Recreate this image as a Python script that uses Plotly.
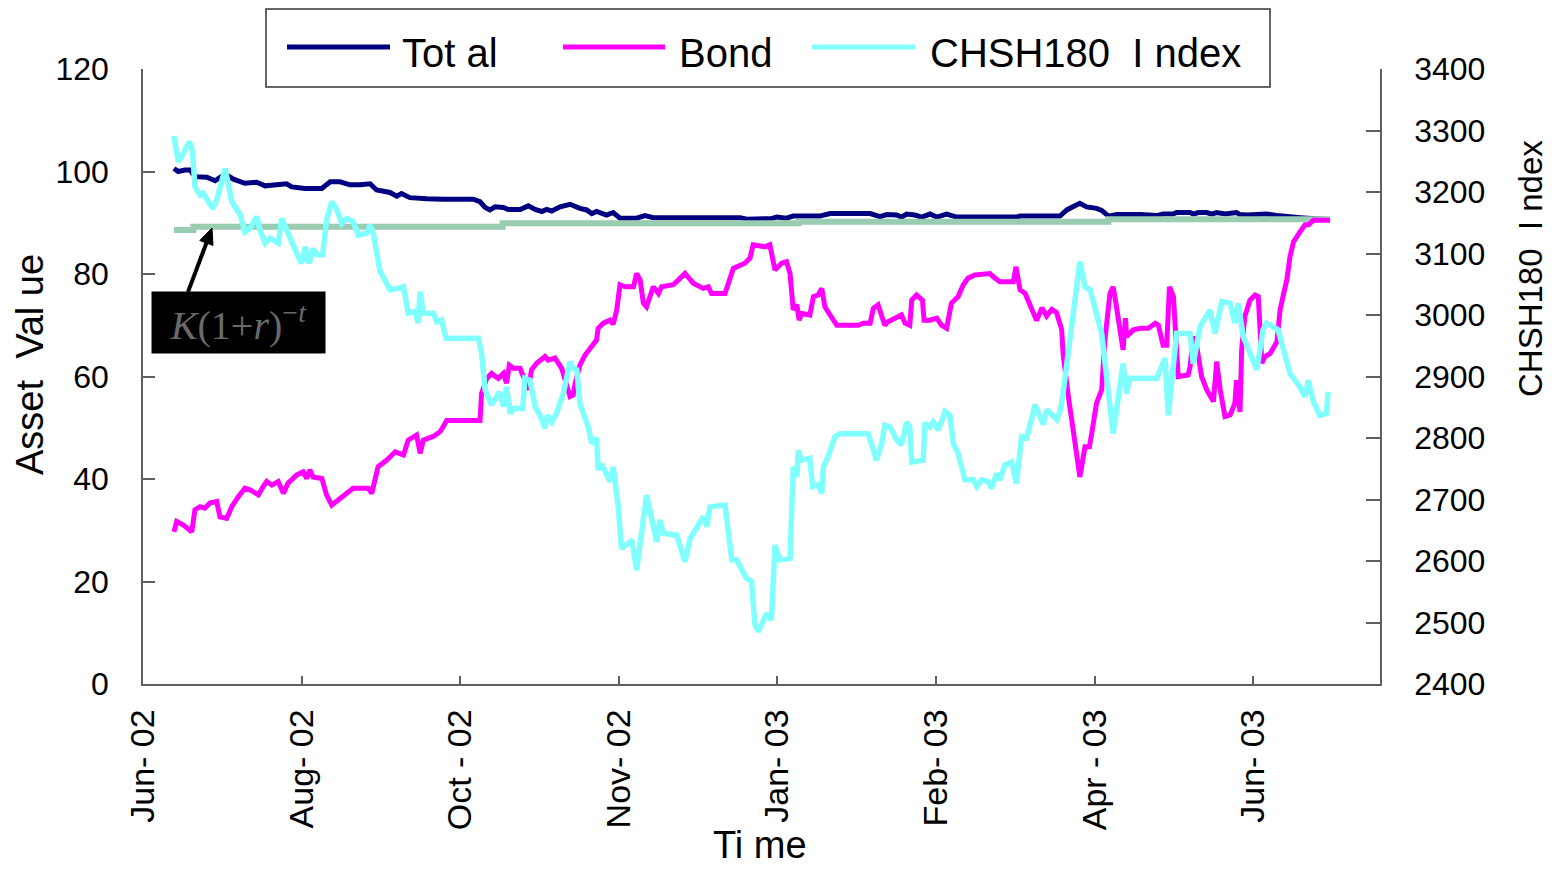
import plotly.graph_objects as go

# Trading-day index along the horizontal axis; month labels every 40 sessions
month_ticks = [0, 40, 80, 120, 160, 200, 240, 280]
month_labels = ["Jun- 02", "Aug- 02", "Oct - 02", "Nov- 02",
                "Jan- 03", "Feb- 03", "Apr - 03", "Jun- 03"]

# Total portfolio value
total_day = [7.8, 8.9, 10.6, 11.9, 13.1, 16.1, 18.2, 20.7, 22.8, 25.7, 28.7, 30.8, 33.7,
             36.2, 37.5, 40.9, 45.1, 47.2, 49.7, 52.2, 54.7, 57.3, 58.9, 62.3, 64.0, 65.2,
             67.3, 69.9, 71.6, 75.7, 83.3, 85.0, 86.3, 87.5, 88.8, 90.9, 92.1, 95.1, 97.2,
             98.9, 100.6, 101.8, 103.1, 105.2, 107.7, 110.2, 111.9, 113.2, 114.4, 116.9,
             118.6, 120.3, 124.5, 126.6, 128.7, 150.6, 152.3, 158.5, 159.8, 162.3, 164.0,
             170.7, 173.3, 183.4, 185.9, 187.6, 190.1, 191.3, 192.6, 194.7, 196.4, 198.5,
             200.2, 202.7, 205.2, 220.3, 221.2, 231.3, 233.0, 236.3, 238.0, 240.5, 241.8,
             243.5, 245.6, 251.5, 255.7, 257.3, 259.8, 260.7, 264.1, 264.9, 266.2, 268.3,
             269.5, 270.8, 272.9, 275.8, 276.7, 278.4, 283.4, 286.0, 288.5, 291.9, 299.4]
total_val = [100.6, 100.0, 100.3, 100.3, 99.0, 98.9, 98.2, 99.5, 98.5, 97.7, 97.9, 97.2, 97.4,
             97.6, 97.0, 96.7, 96.7, 98.0, 98.0, 97.4, 97.4, 97.6, 96.4, 95.9, 95.2, 95.7,
             94.9, 94.9, 94.7, 94.6, 94.6, 94.1, 93.0, 92.5, 93.1, 93.0, 92.6, 92.6, 93.3,
             92.6, 92.2, 92.6, 92.3, 93.1, 93.6, 92.8, 92.5, 91.8, 92.2, 91.5,
             92.0, 90.9, 90.9, 91.4, 91.0, 91.0, 90.7, 90.8, 91.1, 90.9, 91.3,
             91.3, 91.8, 91.8, 91.2, 91.6, 91.5, 91.1, 91.7, 91.5, 91.1, 91.7,
             91.1, 91.7, 91.1, 91.1, 91.3, 91.3, 92.5, 93.8, 93.1, 92.8, 92.4,
             91.3, 91.6, 91.6, 91.4, 91.7, 91.7, 92.0, 92.0, 91.7, 92.0, 92.0,
             91.7, 92.0, 91.7, 92.0, 91.6, 91.5, 91.7, 91.4, 91.3, 91.0, 90.6]

# Bond holding value
bond_day = [7.8, 8.5, 10.2, 12.3, 13.1, 14.4, 15.6, 16.9, 18.6, 19.4, 21.1, 22.4, 24.0, 25.7,
            27.0, 29.1, 30.3, 31.2, 32.5, 34.1, 35.4, 36.6, 38.8, 40.4, 41.3, 42.1, 42.9,
            45.1, 46.3, 47.6, 49.7, 51.4, 53.0, 56.8, 57.7, 59.3, 61.5, 63.6, 65.7, 66.9,
            69.0, 69.9, 70.7, 73.2, 74.9, 75.7, 76.6, 85.0, 85.4, 86.7, 87.9, 89.6, 90.9,
            91.7, 92.4, 93.4, 95.1, 96.3, 97.2, 98.0, 99.3, 101.4, 102.2, 103.9, 105.6,
            107.7, 108.5, 109.0, 110.2, 111.5, 113.2, 114.4, 114.8, 116.1, 117.8, 118.6,
            119.5, 120.3, 121.6, 123.7, 124.5, 125.4, 126.2, 127.0, 128.7, 130.0, 130.8,
            133.7, 135.0, 136.7, 138.8, 141.3, 142.6, 143.4, 146.8, 148.9, 151.8, 153.1,
            153.9, 156.9, 158.1, 159.4, 161.1, 162.3, 163.2, 164.0, 164.9, 165.5, 166.1,
            168.2, 169.1, 170.3, 171.2, 172.0, 173.3, 175.0, 180.4, 181.7, 183.4, 184.2,
            185.4, 186.3, 187.1, 187.9, 190.1, 191.3, 192.2, 193.4, 193.9, 195.1, 196.6,
            197.0, 198.5, 200.2, 201.4, 202.7, 203.9, 205.6, 206.9, 208.1, 209.8, 213.6,
            214.4, 216.1, 219.5, 220.2, 221.2, 222.5, 223.7, 225.4, 226.7, 227.9, 229.2,
            230.4, 231.7, 232.1, 233.4, 234.6, 236.3, 237.6, 238.7, 239.3, 240.5, 241.8,
            242.6, 243.9, 244.7, 245.4, 246.4, 247.2, 247.8, 248.1, 249.8, 251.5, 253.6,
            255.3, 256.1, 257.3, 258.2, 258.9, 259.9, 260.5, 261.1, 263.6, 264.1, 264.9,
            265.8, 267.0, 268.3, 270.0, 270.8, 271.7, 272.9, 274.2, 275.4, 275.8, 276.7,
            277.1, 277.9, 279.2, 280.5, 281.3, 282.2, 283.0, 284.3, 286.0, 286.8, 287.7,
            288.5, 289.3, 290.2, 291.9, 293.1, 294.0, 295.2, 299.4]
bond_val = [29.7, 31.7, 31.0, 29.7, 34.0, 34.6, 34.3, 35.3, 35.6, 32.6, 32.3, 34.6, 36.5, 38.2,
            37.9, 36.9, 38.5, 39.5, 38.8, 39.5, 37.2, 39.2, 40.8, 41.4, 40.1, 41.8, 40.4,
            40.1, 36.9, 34.9, 36.2, 37.2, 38.2, 38.2, 37.2, 42.4, 43.7, 45.3, 44.7, 47.6,
            48.6, 45.0, 47.6, 48.3, 49.2, 50.2, 51.4, 51.4, 56.7, 59.6, 60.6, 59.6, 60.6,
            58.7, 62.2, 61.6, 61.6, 59.3, 57.4, 61.3, 62.6, 63.9, 63.2, 63.6, 61.6,
            56.1, 56.4, 58.7, 62.2, 64.2, 65.8, 67.1, 69.4, 70.4, 71.0, 70.2,
            73.0, 77.9, 77.5, 77.5, 80.1, 78.8, 74.3, 73.6, 77.5, 76.2, 77.5,
            77.9, 78.8, 80.1, 78.2, 77.2, 77.5, 76.2, 76.2, 81.1, 82.1, 83.1,
            85.7, 85.3, 85.7, 80.8, 82.1, 82.4, 80.1, 73.0, 74.0, 71.0, 72.3,
            72.0, 75.6, 75.9, 77.2, 73.6, 72.0, 70.0, 70.0, 70.4, 70.4, 73.3,
            74.0, 71.7, 70.0, 70.7, 71.7, 72.0, 70.4, 70.0, 74.9, 75.9, 74.9,
            71.0, 71.0, 71.4, 70.0, 69.4, 74.3, 75.6, 77.9, 79.2, 79.8, 80.1,
            79.5, 78.5, 78.5, 81.4, 76.9, 76.2, 74.0, 70.9, 73.4, 71.8, 73.1,
            72.5, 69.2, 64.2, 56.1, 48.9, 40.4, 46.3, 46.3, 48.9, 54.8, 57.4,
            67.1, 76.2, 77.5, 74.3, 68.4, 65.2, 71.4, 67.8, 69.1, 69.4, 69.4,
            70.4, 70.0, 66.1, 66.1, 77.5, 75.6, 69.1, 60.0, 60.3, 61.9, 67.8,
            65.8, 60.0, 57.4, 55.1, 62.9, 57.4, 52.2, 52.5, 54.8, 59.3, 53.1,
            65.2, 71.7, 74.9, 75.9, 75.6, 62.6, 63.9, 64.5, 66.8, 73.0, 76.2,
            78.8, 83.4, 86.3, 88.3, 89.6, 89.6, 90.5, 90.5]

# CHSH180 index level (secondary axis)
index_day = [7.8, 8.9, 10.2, 11.7, 12.5, 13.1, 14.4, 15.2, 17.6, 18.6, 20.7, 22.4, 24.5, 25.7,
             27.0, 28.7, 29.5, 30.8, 32.0, 34.1, 35.0, 36.2, 38.8, 40.0, 40.9, 41.9, 42.9,
             43.8, 45.3, 46.3, 47.6, 48.9, 50.1, 51.4, 53.0, 54.3, 56.4, 57.3, 58.1, 59.8,
             62.3, 64.0, 65.7, 66.9, 68.6, 69.4, 69.9, 70.7, 73.2, 74.1, 75.3, 76.4, 84.6,
             85.4, 86.3, 87.9, 89.9, 90.9, 91.7, 92.6, 93.4, 95.8, 96.3, 97.6, 98.9, 100.1,
             101.4, 102.0, 103.1, 104.3, 106.0, 107.7, 108.5, 109.4, 110.2, 112.3, 113.2,
             114.4, 114.8, 115.7, 117.8, 118.6, 119.9, 120.7, 123.3, 124.5, 127.0, 129.6,
             130.4, 131.2, 134.6, 136.7, 138.0, 140.1, 141.3, 142.2, 143.0, 146.8, 148.5,
             149.7, 152.2, 153.5, 154.3, 155.2, 157.3, 158.5, 159.4, 160.6, 163.2, 164.0,
             164.9, 165.3, 166.1, 168.2, 168.9, 170.3, 171.2, 171.6, 172.8, 174.5, 175.8,
             182.9, 185.0, 186.3, 187.1, 188.4, 190.1, 191.3, 192.6, 193.4, 193.9, 196.8,
             197.2, 198.5, 199.3, 200.6, 202.3, 203.5, 204.4, 205.6, 207.3, 209.4, 210.3,
             211.5, 213.2, 214.0, 215.3, 216.1, 217.4, 219.1, 220.3, 221.6, 222.9, 225.0,
             226.2, 227.1, 227.9, 230.5, 231.4, 232.0, 233.8, 236.3, 237.6, 238.9, 241.8,
             244.7, 247.2, 248.1, 248.9, 255.7, 257.8, 258.6, 260.7, 264.1, 264.9, 266.6,
             269.1, 270.4, 272.1, 274.2, 275.4, 276.2, 277.5, 280.9, 282.5, 283.4, 286.3,
             289.3, 291.8, 293.1, 293.9, 295.2, 296.8, 298.5, 298.9]
index_val = [3291, 3249, 3263, 3282, 3265, 3209, 3195, 3198, 3173, 3187, 3238, 3184, 3163, 3135,
             3141, 3160, 3138, 3117, 3125, 3117, 3157, 3138, 3100, 3084, 3111, 3084, 3108,
             3098, 3098, 3154, 3184, 3171, 3149, 3157, 3152, 3130, 3133, 3146, 3133, 3071,
             3041, 3043, 3046, 3003, 3006, 2987, 3038, 3003, 3003, 2989, 2992, 2962, 2962,
             2938, 2878, 2854, 2875, 2851, 2883, 2840, 2848, 2848, 2897, 2894, 2851, 2837,
             2816, 2837, 2826, 2840, 2872, 2924, 2913, 2911, 2856, 2818, 2791,
             2800, 2748, 2758, 2729, 2753, 2686, 2620, 2634, 2585, 2707, 2631,
             2667, 2645, 2642, 2599, 2637, 2659, 2672, 2656, 2688, 2691, 2602,
             2602, 2572, 2567, 2498, 2485, 2515, 2504, 2626, 2602, 2604, 2753,
             2737, 2780, 2764, 2767, 2721, 2724, 2710, 2753, 2770, 2802, 2807,
             2807, 2764, 2791, 2821, 2818, 2797, 2789, 2826, 2818, 2761, 2764,
             2824, 2818, 2826, 2813, 2843, 2837, 2791, 2775, 2732, 2732, 2721,
             2732, 2729, 2718, 2742, 2732, 2756, 2761, 2726, 2802, 2800, 2854,
             2837, 2822, 2846, 2830, 2846, 2870, 2960, 3087, 3046, 3041, 2970,
             2807, 2921, 2872, 2897, 2897, 2930, 2837, 2970, 2970, 2921, 2981,
             3008, 2970, 3022, 3019, 2987, 3019, 2965, 2911, 2976, 2987, 2976,
             2905, 2883, 2867, 2894, 2859, 2837, 2840, 2875]

# Discounted floor K(1+r)^-t, held flat between revisions
floor_day = [7.8, 12.7, 90.7, 165.4, 243.5, 299.4]
floor_val = [88.6, 89.2, 89.9, 90.2, 90.7, 90.7]

NAVY = "#000080"
MAGENTA = "#FF00FF"
CYAN = "#80FFFF"
FLOOR_GREEN = "#99CCB0"
AXIS_GREY = "#5f5f5f"
FONT = "Liberation Sans, Arial, sans-serif"

# plot-area geometry in pixels
L, R, T, B = 143, 172, 69, 186
W, H = 1552, 870
PW, PH = W - L - R, H - T - B


def px(x):
    return (x - L) / PW


def py(y):
    return (H - B - y) / PH


fig = go.Figure()
fig.add_trace(go.Scatter(x=total_day, y=total_val, name="Tot al", mode="lines",
                         line=dict(color=NAVY, width=5), showlegend=False))
fig.add_trace(go.Scatter(x=floor_day, y=floor_val, name="K(1+r)^-t", mode="lines",
                         line=dict(color=FLOOR_GREEN, width=6, shape="hv"), showlegend=False))
fig.add_trace(go.Scatter(x=bond_day, y=bond_val, name="Bond", mode="lines",
                         line=dict(color=MAGENTA, width=5), showlegend=False))
fig.add_trace(go.Scatter(x=index_day, y=index_val, name="CHSH180  I ndex", mode="lines",
                         line=dict(color=CYAN, width=5.5), yaxis="y2", showlegend=False))

axis_common = dict(showgrid=False, zeroline=False, showline=True, linecolor=AXIS_GREY,
                   linewidth=1.5, ticks="inside", tickcolor=AXIS_GREY, tickwidth=1.5)

fig.update_layout(
    width=W, height=H,
    margin=dict(l=L, r=R, t=T, b=B),
    paper_bgcolor="white", plot_bgcolor="white",
    font=dict(family=FONT, color="black"),
    xaxis=dict(range=[0, 312], tickvals=month_ticks, ticktext=month_labels,
               tickangle=-90, ticklen=8, ticklabelstandoff=10,
               tickfont=dict(family=FONT, size=34, color="black"), **axis_common),
    yaxis=dict(range=[0, 120], dtick=20, ticklen=12, ticklabelstandoff=26,
               tickfont=dict(family=FONT, size=32, color="black"), **axis_common),
    yaxis2=dict(range=[2400, 3400], dtick=100, ticklen=14, overlaying="y", side="right",
                ticklabelstandoff=26,
                tickfont=dict(family=FONT, size=32, color="black"), **axis_common),
)

# custom legend box across the top
legend_items = [("Tot al", NAVY, 287, 390, 400),
                ("Bond", MAGENTA, 563, 665, 677),
                ("CHSH180  I ndex", CYAN, 812, 915, 928)]
fig.add_shape(type="rect", xref="paper", yref="paper",
              x0=px(266), x1=px(1270), y0=py(87), y1=py(9),
              line=dict(color="#333333", width=1.5), fillcolor="white", layer="below")
for label, color, x0, x1, xt in legend_items:
    fig.add_shape(type="line", xref="paper", yref="paper",
                  x0=px(x0), x1=px(x1), y0=py(47), y1=py(47),
                  line=dict(color=color, width=5))
    fig.add_annotation(text=label, xref="paper", yref="paper", x=px(xt), y=py(53),
                       xanchor="left", yanchor="middle", showarrow=False,
                       font=dict(family=FONT, size=40, color="black"))

# axis titles
fig.add_annotation(text="Asset  Val ue", xref="paper", yref="paper", x=px(30), y=py(365),
                   textangle=-90, showarrow=False, xanchor="center", yanchor="middle",
                   font=dict(family=FONT, size=38, color="black"))
fig.add_annotation(text="CHSH180  I ndex", xref="paper", yref="paper", x=px(1530), y=py(269),
                   textangle=-90, showarrow=False, xanchor="center", yanchor="middle",
                   font=dict(family=FONT, size=33, color="black"))
fig.add_annotation(text="Ti me", xref="paper", yref="paper", x=px(760), y=py(868),
                   showarrow=False, xanchor="center", yanchor="bottom",
                   font=dict(family=FONT, size=38, color="black"))

# label for the discounted floor, with a pointer onto the line
fig.add_annotation(text="<i>K</i>(1+<i>r</i>)<sup>−<i>t</i></sup>", xref="paper", yref="paper",
                   x=px(238.5), y=py(322.5), showarrow=False, xanchor="center", yanchor="middle",
                   width=173, height=61, borderpad=0, bgcolor="black",
                   font=dict(family="Liberation Serif, serif", size=40, color="#6a6a6a"))
fig.add_shape(type="line", xref="paper", yref="paper",
              x0=px(188), y0=py(292), x1=px(206.4), y1=py(243),
              line=dict(color="black", width=4))
fig.add_shape(type="path", xref="paper", yref="paper",
              path=(f"M {px(212):.5f},{py(228):.5f} L {px(213.0):.5f},{py(245.5):.5f} "
                    f"L {px(199.8):.5f},{py(240.5):.5f} Z"),
              fillcolor="black", line=dict(color="black", width=1))

fig.write_html("out.html")
